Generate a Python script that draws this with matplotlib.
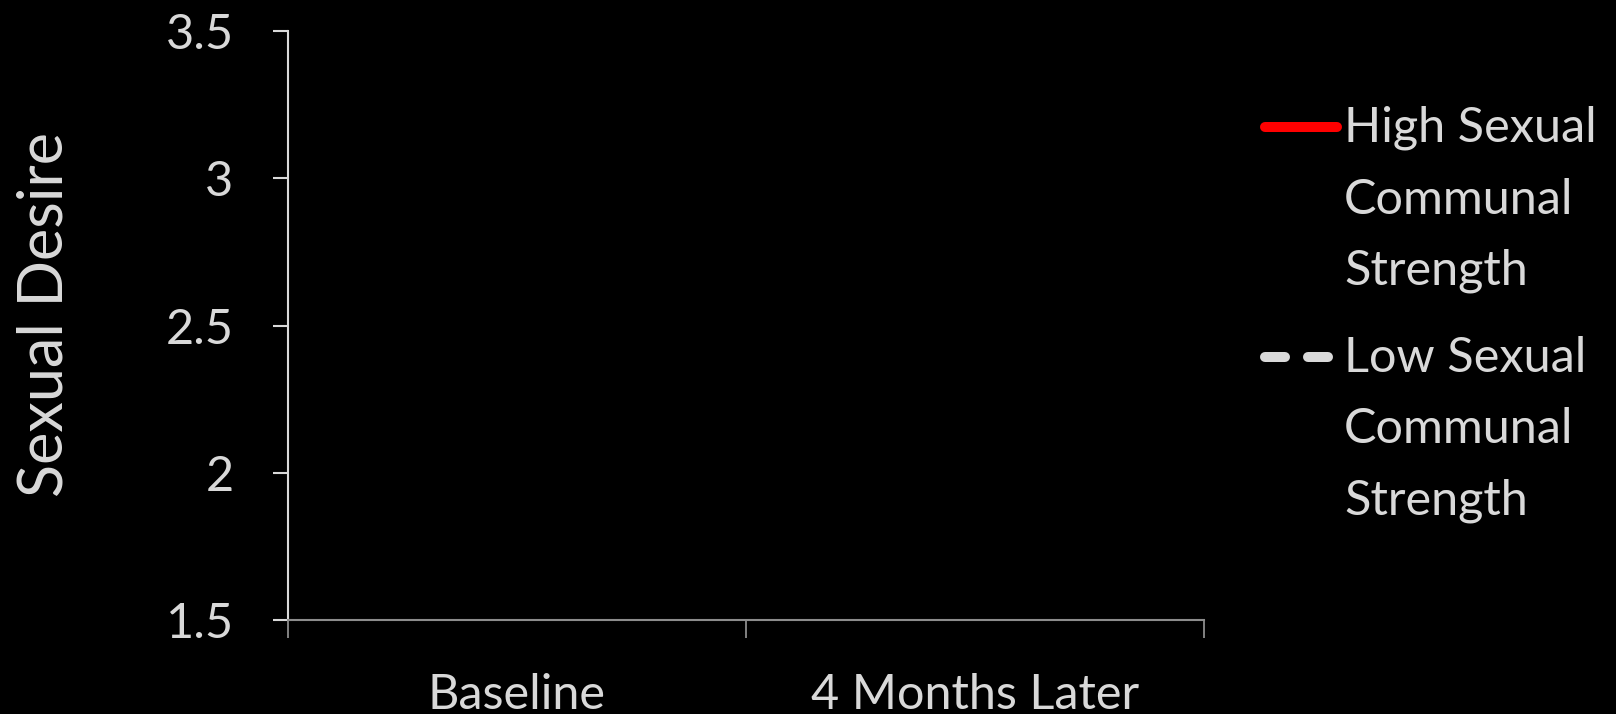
import numpy as np
import matplotlib
matplotlib.use("Agg")
import matplotlib.pyplot as plt
from matplotlib.ticker import FixedLocator, NullFormatter
from matplotlib.legend_handler import HandlerLine2D

# data (the lines are not shown in the reference, only the legend)
categorias = ["Baseline", "4 Months Later"]
alto_desejo = [np.nan, np.nan]
baixo_desejo = [np.nan, np.nan]
rotulos = ["High Sexual\nCommunal\nStrength", "Low Sexual\nCommunal\nStrength"]
yticks = [1.5, 2, 2.5, 3, 3.5]

texto = "#d9d9d9"
plt.rcParams["font.family"] = ["Lato", "DejaVu Sans"]


class HandlerPrimeiraLinha(HandlerLine2D):
    # puts the legend line next to the first line of the label
    def __init__(self, desloc, **kw):
        super().__init__(**kw)
        self.desloc = desloc

    def create_artists(self, legend, orig_handle, xdescent, ydescent, width, height, fontsize, trans):
        arts = super().create_artists(legend, orig_handle, xdescent, ydescent, width, height, fontsize, trans)
        for a in arts:
            a.set_ydata(np.asarray(a.get_ydata()) + self.desloc)
        return arts


W, H = 1616, 714
esq, dir_, topo, base = 287.5, 1204, 31, 620

fig = plt.figure(figsize=(W / 100, H / 100), dpi=100, facecolor="black")
ax = fig.add_axes([esq / W, 1 - base / H, (dir_ - esq) / W, (base - topo) / H])
ax.set_facecolor("black")

x = np.arange(len(categorias))
l1, = ax.plot(x, alto_desejo, color="#ff0000", lw=7.2, solid_capstyle="round")
l2, = ax.plot(x, baixo_desejo, color=texto, lw=7.2, linestyle=(0, (2.0, 2.3)),
              dash_capstyle="round")

ax.set_xlim(-0.5, len(categorias) - 0.5)
ax.set_ylim(1.5, 3.5)
ax.set_yticks(yticks)
ax.set_yticklabels(["1.5", "2", "2.5", "3", "3.5"])

ax.xaxis.set_major_locator(FixedLocator([-0.5, 0.5, 1.5]))
ax.xaxis.set_major_formatter(NullFormatter())
ax.set_xticks(x, minor=True)
ax.set_xticklabels(categorias, minor=True)
ax.tick_params(axis="x", which="major", direction="out", length=13, width=1.3, color="#8c8c8c")
ax.tick_params(axis="x", which="minor", length=0, pad=38, labelsize=35, labelcolor=texto)
ax.tick_params(axis="y", direction="out", length=10.8, width=1.5, color=texto,
               labelsize=35, labelcolor=texto, pad=28)

for lado in ["top", "right"]:
    ax.spines[lado].set_visible(False)
ax.spines["left"].set_color(texto)
ax.spines["left"].set_linewidth(1.5)
ax.spines["bottom"].set_color("#8c8c8c")
ax.spines["bottom"].set_linewidth(1.5)

ax.set_ylabel("Sexual Desire", fontsize=44, color=texto)
ax.yaxis.set_label_coords(-0.233, 0.518)

leg = fig.legend([l1, l2], rotulos, loc="upper left", bbox_to_anchor=(1265 / W, 1 - 106 / H),
                 frameon=False, fontsize=35, labelcolor=texto, handlelength=1.48,
                 handletextpad=0.15, borderpad=0, borderaxespad=0, labelspacing=0.88,
                 handler_map={l1: HandlerPrimeiraLinha(53.2), l2: HandlerPrimeiraLinha(53.2)})
for t in leg.get_texts():
    t.set_linespacing(1.756)

fig.savefig("out.png", dpi=100, facecolor="black")
